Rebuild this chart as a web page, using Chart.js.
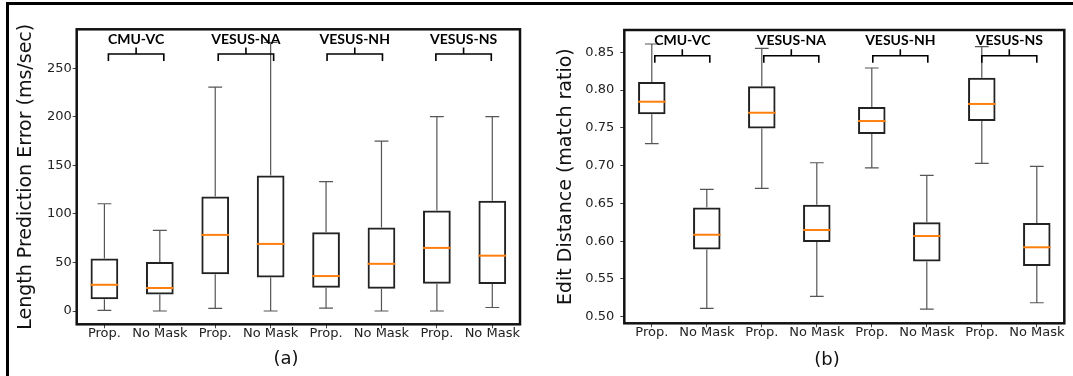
<!DOCTYPE html>
<html>
<head>
<meta charset="utf-8">
<script src="https://cdn.jsdelivr.net/npm/chart.js@4.4.1/dist/chart.umd.min.js"></script>
<style>
  html, body { margin: 0; padding: 0; background: #fff; }
  body { width: 1073px; height: 376px; position: relative; overflow: hidden; }
  #frame { position: absolute; left: 6px; top: 2px; width: 1100px; height: 400px;
           border-top: 3px solid #000; border-left: 3px solid #000; }
  canvas { position: absolute; top: 0; }
  #chartA { left: 0; }
  #chartB { left: 540px; }
</style>
</head>
<body>
<div id="frame"></div>
<canvas id="chartA" width="540" height="376"></canvas>
<canvas id="chartB" width="533" height="376"></canvas>
<script>
// --- data ---
const CATEGORIES = ['Prop.', 'No Mask', 'Prop.', 'No Mask', 'Prop.', 'No Mask', 'Prop.', 'No Mask'];
const GROUPS = ['CMU-VC', 'VESUS-NA', 'VESUS-NH', 'VESUS-NS'];

// (a) length prediction error, ms/sec
const A_MIN = [0.7, 0, 2.7, 0, 3, 0, 0, 3.6];
const A_Q1  = [12, 17, 37.8, 34.4, 24, 22.8, 28.1, 27.8];
const A_MED = [27, 23.7, 78.4, 69.1, 36, 48.6, 65, 57];
const A_Q3  = [54, 50.5, 117.9, 139.5, 81.2, 85.9, 103.5, 113.6];
const A_MAX = [110.5, 83, 230.6, 276.6, 133.3, 174.9, 200.3, 200.3];
const A_YTICKS = [0, 50, 100, 150, 200, 250];

// (b) edit distance, match ratio
const B_MIN = [0.729, 0.511, 0.670, 0.527, 0.697, 0.510, 0.703, 0.5185];
const B_Q1  = [0.768, 0.589, 0.749, 0.599, 0.742, 0.573, 0.759, 0.567];
const B_MED = [0.7846, 0.6085, 0.770, 0.6148, 0.759, 0.6068, 0.7816, 0.5919];
const B_Q3  = [0.8107, 0.6447, 0.805, 0.6483, 0.7776, 0.625, 0.8164, 0.624];
const B_MAX = [0.861, 0.6686, 0.8553, 0.7038, 0.8292, 0.6872, 0.8574, 0.6991];
const B_YTICKS = [0.50, 0.55, 0.60, 0.65, 0.70, 0.75, 0.80, 0.85];

const TICK_FONT = { family: 'DejaVu Sans', size: 13 };

// whiskers, medians, frame, group brackets and panel caption
function boxPlugin(p) {
  return {
    id: 'boxExtras',
    afterDatasetsDraw(chart) {
      const { ctx, chartArea: area, scales: { x, y } } = chart;
      const slot = x.getPixelForValue(1) - x.getPixelForValue(0);
      const cap = slot * 0.125;
      const half = slot * 0.25;
      ctx.save();

      // whiskers and caps
      ctx.strokeStyle = '#555';
      ctx.lineWidth = 1.2;
      p.q1.forEach((q1, i) => {
        const cx = x.getPixelForValue(i);
        const yMin = y.getPixelForValue(p.min[i]);
        const yMax = y.getPixelForValue(p.max[i]);
        ctx.beginPath();
        ctx.moveTo(cx, y.getPixelForValue(q1)); ctx.lineTo(cx, yMin);
        ctx.moveTo(cx, y.getPixelForValue(p.q3[i])); ctx.lineTo(cx, yMax);
        ctx.moveTo(cx - cap, yMin); ctx.lineTo(cx + cap, yMin);
        ctx.moveTo(cx - cap, yMax); ctx.lineTo(cx + cap, yMax);
        ctx.stroke();
      });

      // medians
      ctx.strokeStyle = '#ff7f0e';
      ctx.lineWidth = 2;
      p.med.forEach((m, i) => {
        const cx = x.getPixelForValue(i);
        const ym = y.getPixelForValue(m);
        ctx.beginPath();
        ctx.moveTo(cx - half, ym); ctx.lineTo(cx + half, ym);
        ctx.stroke();
      });

      // axes frame
      ctx.strokeStyle = '#111';
      ctx.lineWidth = 2.5;
      ctx.strokeRect(area.left, area.top, area.width, area.height);

      // group brackets
      ctx.strokeStyle = '#000';
      ctx.lineWidth = 1.6;
      ctx.fillStyle = '#000';
      ctx.font = 'bold 14px Lato';
      ctx.textAlign = 'center';
      ctx.textBaseline = 'middle';
      const yb = y.getPixelForValue(p.bracket);
      GROUPS.forEach((g, k) => {
        const xa = x.getPixelForValue(2 * k) + p.shift[k];
        const xb = x.getPixelForValue(2 * k + 1) + p.shift[k];
        const mid = (xa + xb) / 2;
        ctx.beginPath();
        ctx.moveTo(xa, yb + 7); ctx.lineTo(xa, yb); ctx.lineTo(xb, yb); ctx.lineTo(xb, yb + 7);
        ctx.moveTo(mid, yb); ctx.lineTo(mid, yb - 6.5);
        ctx.stroke();
        ctx.fillText(g, mid, yb - 15);
      });

      // caption
      ctx.font = '18px DejaVu Sans';
      ctx.fillStyle = '#111';
      ctx.fillText(p.caption, p.capX, p.capY);
      ctx.restore();
    }
  };
}

function makeChart(id, p) {
  return new Chart(document.getElementById(id), {
    type: 'bar',
    data: {
      labels: CATEGORIES,
      datasets: [{
        data: p.q1.map((q, i) => [q, p.q3[i]]),
        backgroundColor: 'rgba(0,0,0,0)',
        borderColor: '#222',
        borderWidth: 2,
        borderSkipped: false,
        barPercentage: 0.5,
        categoryPercentage: 1.0
      }]
    },
    options: {
      responsive: false,
      animation: false,
      devicePixelRatio: 1,
      layout: { padding: p.pad },
      plugins: { legend: { display: false }, tooltip: { enabled: false } },
      scales: {
        x: {
          grid: { drawOnChartArea: false, drawTicks: true, tickLength: 4, offset: false, color: '#444' },
          border: { display: false },
          ticks: { font: TICK_FONT, color: '#222', padding: -2, maxRotation: 0, autoSkip: false },
          afterFit: s => { s.height = 40; }
        },
        y: {
          min: p.yMin,
          max: p.yMax,
          grid: { drawOnChartArea: false, drawTicks: true, tickLength: 4, color: '#444' },
          border: { display: false },
          ticks: { font: TICK_FONT, color: '#222', padding: p.yPad, callback: p.fmt },
          afterBuildTicks: s => { s.ticks = p.yticks.map(v => ({ value: v })); },
          afterFit: s => { s.width = p.yWidth; },
          title: {
            display: true,
            text: p.title,
            font: { family: 'DejaVu Sans', size: 19 },
            color: '#111',
            padding: { top: 14.6, bottom: 0 }
          }
        }
      }
    },
    plugins: [boxPlugin(p)]
  });
}

makeChart('chartA', {
  q1: A_Q1, q3: A_Q3, med: A_MED, min: A_MIN, max: A_MAX, yticks: A_YTICKS,
  yMin: -13.7, yMax: 290.2, bracket: 264.7, shift: [4, 3, 1, -1],
  title: 'Length Prediction Error (ms/sec)', fmt: v => String(v),
  caption: '(a)', capX: 286, capY: 359,
  pad: { left: 0, top: 29.3, right: 20, bottom: 11.7 }, yWidth: 76.7, yPad: 1
});

makeChart('chartB', {
  q1: B_Q1, q3: B_Q3, med: B_MED, min: B_MIN, max: B_MAX, yticks: B_YTICKS,
  yMin: 0.4913, yMax: 0.8795, bracket: 0.8455, shift: [3, 2, 1, 0],
  title: 'Edit Distance (match ratio)', fmt: v => v.toFixed(2),
  caption: '(b)', capX: 287, capY: 360,
  pad: { left: 0, top: 30, right: 8.7, bottom: 12.7 }, yWidth: 84.3, yPad: 6
});
</script>
</body>
</html>
